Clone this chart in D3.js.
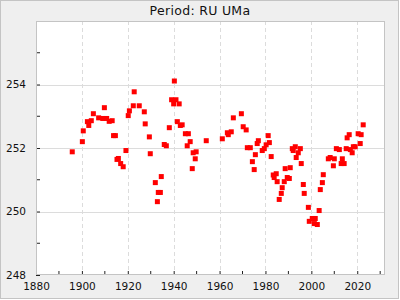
<!DOCTYPE html>
<html>
<head>
<meta charset="utf-8">
<script src="https://cdn.jsdelivr.net/npm/d3@7"></script>
<style>
  body { margin: 0; background: #fff; }
  svg { display: block; font-family: "DejaVu Sans", sans-serif; }
</style>
</head>
<body>
<svg width="400" height="300"></svg>
<script>
var title = "Period: RU UMa";

var years = [
    1895.8, 1900.2, 1900.6, 1902.4, 1903.0, 1904.1, 1905.0, 1907.3, 1909.1, 1909.8,
    1910.8, 1911.9, 1913.2, 1913.8, 1914.6, 1915.3, 1915.9, 1916.9, 1918.0, 1919.2,
    1920.2, 1920.7, 1922.4, 1922.8, 1925.0, 1927.2, 1927.6, 1929.4, 1929.8, 1932.0,
    1932.9, 1933.3, 1934.2, 1934.6, 1935.9, 1936.8, 1938.1, 1939.1, 1940.0, 1940.3,
    1941.0, 1942.4, 1941.6, 1942.9, 1943.7, 1945.1, 1946.4, 1945.9, 1947.2, 1948.1,
    1948.5, 1949.4, 1949.8, 1954.2, 1961.2, 1963.4, 1963.8, 1965.1, 1966.0, 1969.5,
    1970.3, 1971.6, 1972.1, 1973.4, 1974.3, 1975.1, 1975.6, 1976.4, 1976.9, 1978.6,
    1979.5, 1980.3, 1981.2, 1981.7, 1982.5, 1983.4, 1983.8, 1984.7, 1985.1, 1986.0,
    1986.9, 1987.3, 1988.2, 1988.6, 1989.5, 1990.4, 1990.8, 1991.7, 1992.1, 1993.0,
    1993.4, 1994.3, 1995.2, 1995.6, 1996.5, 1996.9, 1998.7, 1999.1, 2000.4, 2001.7,
    2001.3, 2002.6, 2003.4, 2003.9, 2004.8, 2005.2, 2007.4, 2008.2, 2009.6, 2010.0,
    2010.9, 2012.2, 2013.0, 2013.5, 2014.3, 2015.2, 2015.6, 2016.5, 2017.0, 2017.8,
    2018.3, 2019.1, 2020.4, 2021.3, 2021.7, 2022.6
];

var periods = [
    251.88, 252.20, 252.54, 252.83, 252.71, 252.86, 253.08, 252.95, 252.93, 253.27,
    252.93, 252.84, 252.86, 252.39, 252.39, 251.64, 251.67, 251.51, 251.41, 251.92,
    253.02, 253.17, 253.33, 253.77, 253.33, 253.14, 252.76, 252.35, 251.82, 250.91,
    250.31, 250.60, 250.60, 251.10, 252.11, 252.07, 252.64, 253.52, 253.39, 254.11,
    253.52, 253.39, 252.83, 252.71, 252.73, 252.45, 252.45, 252.07, 252.20, 251.35,
    251.85, 251.66, 251.88, 252.23, 252.29, 252.48, 252.42, 252.51, 252.95, 253.08,
    252.67, 252.57, 252.01, 252.01, 251.57, 251.32, 251.79, 252.14, 252.23, 251.92,
    251.98, 252.10, 252.39, 252.17, 251.73, 251.15, 251.07, 251.19, 250.94, 250.38,
    250.57, 250.75, 250.94, 251.35, 251.07, 251.04, 251.38, 251.98, 251.92, 252.04,
    251.70, 251.85, 251.98, 251.51, 250.85, 250.57, 250.13, 249.69, 249.78, 249.78,
    249.62, 249.59, 250.03, 250.69, 250.91, 251.16, 251.66, 251.70, 251.44, 251.66,
    251.98, 251.95, 251.51, 251.66, 251.51, 251.98, 252.32, 252.42, 251.95, 251.85,
    252.04, 252.04, 252.45, 252.14, 252.42, 252.73
];

var xTicks = [1880, 1900, 1920, 1940, 1960, 1980, 2000, 2020];
var xMinor = [1890, 1910, 1930, 1950, 1970, 1990, 2010, 2030];
var yTicks = [248, 250, 252, 254];
var yMinor = [249, 251, 253, 255];

var svg = d3.select('svg');
var pLeft = 36, pRight = 385, pTop = 21, pBottom = 275;

var x = d3.scaleLinear().domain([1880, 2032.1]).range([pLeft, pRight]);
var y = d3.scaleLinear().domain([248, 256]).range([pBottom, pTop]);

svg.append('rect')
    .attr('x', 0.5).attr('y', 0.5)
    .attr('width', 398).attr('height', 298)
    .attr('fill', '#efefef')
    .attr('stroke', '#c4c4c4');

svg.append('rect')
    .attr('x', pLeft).attr('y', pTop)
    .attr('width', pRight - pLeft).attr('height', pBottom - pTop)
    .attr('fill', '#fff');

// grid
svg.append('g').selectAll('line')
    .data(yTicks.slice(1)).enter()
    .append('line')
    .attr('x1', pLeft).attr('x2', pRight)
    .attr('y1', function(d) { return Math.round(y(d)) + 0.5; })
    .attr('y2', function(d) { return Math.round(y(d)) + 0.5; })
    .attr('stroke', '#dcdcdc');

svg.append('g').selectAll('line')
    .data(xTicks.slice(1)).enter()
    .append('line')
    .attr('x1', function(d) { return Math.round(x(d)) + 0.5; })
    .attr('x2', function(d) { return Math.round(x(d)) + 0.5; })
    .attr('y1', pTop).attr('y2', pBottom)
    .attr('stroke', '#dcdcdc')
    .attr('stroke-dasharray', '4,3');

// axes, ticks inside the plot
var xAxis = svg.append('g')
    .attr('transform', 'translate(0,' + pBottom + ')')
    .call(d3.axisBottom(x).tickValues(xTicks).tickSize(-4).tickPadding(8).tickFormat(d3.format('d')));
xAxis.append('g').selectAll('line')
    .data(xMinor).enter()
    .append('line')
    .attr('x1', function(d) { return x(d); })
    .attr('x2', function(d) { return x(d); })
    .attr('y1', 0).attr('y2', -4)
    .attr('stroke', '#222');

var yAxis = svg.append('g')
    .attr('transform', 'translate(' + pLeft + ',0)')
    .call(d3.axisLeft(y).tickValues(yTicks).tickSize(-4).tickPadding(10));
yAxis.append('g').selectAll('line')
    .data(yMinor).enter()
    .append('line')
    .attr('y1', function(d) { return y(d); })
    .attr('y2', function(d) { return y(d); })
    .attr('x1', 0).attr('x2', 4)
    .attr('stroke', '#222');

svg.selectAll('.domain').remove();
svg.selectAll('.tick line').attr('stroke', '#222');
svg.selectAll('.tick text')
    .attr('font-family', '"DejaVu Sans", sans-serif')
    .attr('font-size', '10.5px')
    .attr('fill', '#111');

// plot frame
svg.append('rect')
    .attr('x', pLeft + 0.5).attr('y', pTop + 0.5)
    .attr('width', pRight - pLeft - 1).attr('height', pBottom - pTop - 1)
    .attr('fill', 'none')
    .attr('stroke', '#c4c4c4');

// points
var pts = years.map(function(d, i) { return { year: d, p: periods[i] }; });
svg.append('g').selectAll('rect')
    .data(pts).enter()
    .append('rect')
    .attr('x', function(d) { return x(d.year) - 2.5; })
    .attr('y', function(d) { return y(d.p) - 2.5; })
    .attr('width', 5)
    .attr('height', 5)
    .attr('fill', '#ff0000');

svg.append('text')
    .attr('x', 200).attr('y', 15)
    .attr('text-anchor', 'middle')
    .attr('font-size', '12.5px')
    .attr('letter-spacing', '0.3px')
    .attr('fill', '#111')
    .text(title);
</script>
</body>
</html>
